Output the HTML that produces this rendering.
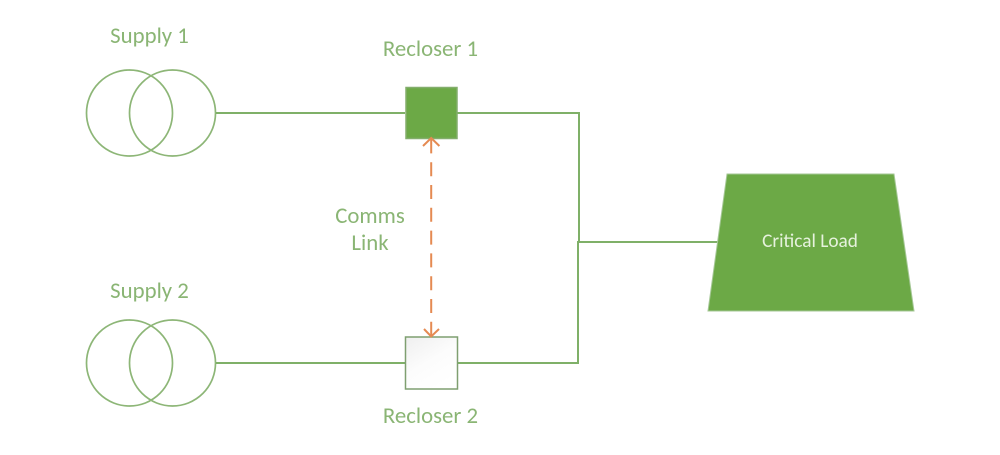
<!DOCTYPE html>
<html>
<head>
<meta charset="utf-8">
<style>
html,body{margin:0;padding:0;background:#fff;}
svg{display:block;}
text{font-family:"Carlito","Liberation Sans",sans-serif;}
</style>
</head>
<body>
<svg width="1000" height="455" viewBox="0 0 1000 455" xmlns="http://www.w3.org/2000/svg">
  <defs>
    <linearGradient id="g" x1="0" y1="0" x2="0.6" y2="1">
      <stop offset="0" stop-color="#efefef"/>
      <stop offset="0.55" stop-color="#fcfcfc"/>
      <stop offset="1" stop-color="#ffffff"/>
    </linearGradient>
  </defs>
  <g fill="none" stroke="#8db677" stroke-width="1.700">
    <circle cx="129.500" cy="113" r="43"/>
    <circle cx="172.500" cy="113" r="43"/>
    <circle cx="129.500" cy="363" r="43"/>
    <circle cx="172.500" cy="363" r="43"/>
  </g>
  <g fill="none" stroke="#7fb068" stroke-width="2">
    <path d="M216 113H405"/>
    <path d="M457 113H579V242"/>
    <path d="M216 363H405"/>
    <path d="M457 363H578V242H720"/>
  </g>
  <rect x="406" y="87.500" width="51" height="51" fill="#6ca946" stroke="#83ae6c" stroke-width="1.500"/>
  <rect x="405.500" y="337" width="52" height="52" fill="url(#g)" stroke="#7f9f70" stroke-width="1.500"/>
  <polygon points="727,174 894,174 914,311 708,311" fill="#6ca946" stroke="#a5c796" stroke-width="1"/>
  <g fill="none" stroke="#e58a52" stroke-width="2">
    <path d="M431.200 139.400V335" stroke-dasharray="14 8.800"/>
    <path d="M423 146L431.200 138L439.400 146"/>
    <path d="M424 329L431.200 336.500L439 329"/>
  </g>
  <g fill="#8ab574" font-size="22.800" text-anchor="middle">
    <text x="149.500" y="43">Supply 1</text>
    <text x="430.500" y="56">Recloser 1</text>
    <text x="370" y="223">Comms</text>
    <text x="370" y="250">Link</text>
    <text x="149.500" y="298">Supply 2</text>
    <text x="430.500" y="423">Recloser 2</text>
  </g>
  <text x="810" y="247" fill="#e6f2dd" font-size="19.300" text-anchor="middle">Critical Load</text>
</svg>
</body>
</html>
